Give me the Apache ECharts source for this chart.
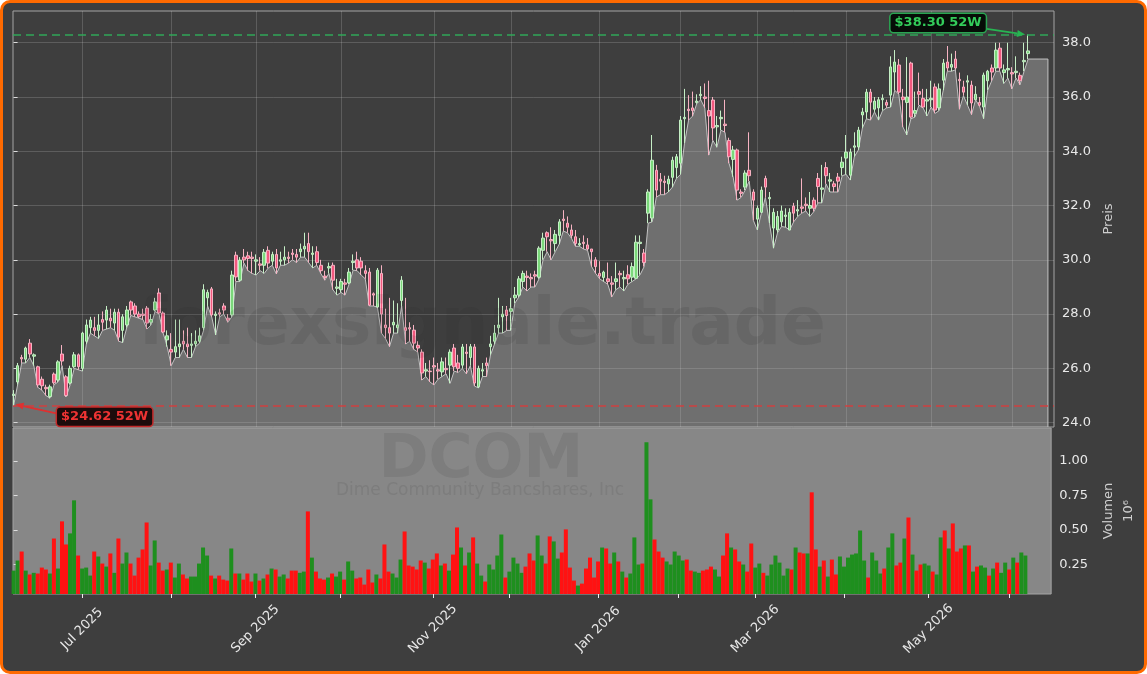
<!DOCTYPE html>
<html><head><meta charset="utf-8">
<script src="https://cdn.jsdelivr.net/npm/echarts@6/dist/echarts.min.js"></script>
<style>
html,body{margin:0;padding:0;background:#ffffff;}
#frame{position:absolute;left:0;top:0;width:1147px;height:674px;box-sizing:border-box;border:3px solid #ff6a00;border-radius:10px;background:#3e3e3e;}
#chart{position:absolute;left:0;top:0;width:1147px;height:674px;}
</style></head><body>
<div id="frame"></div><div id="chart"></div>
<script>
// ---------- DATA ----------
const START_DATE = '2025-06-05';
const END_DATE = '2026-06-05';
const holidays = ['2025-06-19','2025-07-04','2025-09-01','2025-11-27','2025-12-25','2026-01-01','2026-01-19','2026-02-16','2026-04-03','2026-05-25'];
const tickLabels = ['Jul 2025','Sep 2025','Nov 2025','Jan 2026','Mar 2026','May 2026'];
const priceTicks = [24,26,28,30,32,34,36,38];
const volumeTicks = [0.25,0.5,0.75,1.0];

const opens = [
25.0,25.5,26.4,26.34,26.93,26.45,26.06,25.6,25.3,24.96,
25.79,25.57,26.53,25.69,25.46,26.06,26.5,26.0,27.0,27.5,
27.5,27.4,27.8,27.78,27.85,27.67,28.07,27.4,27.6,28.45,
28.3,28.0,28.0,28.22,27.7,28.15,28.78,28.04,27.05,26.7,
26.6,26.8,27.0,26.9,26.85,26.9,27.0,27.5,28.6,28.93,
27.95,28.05,28.3,27.85,27.97,30.17,29.25,30.1,30.15,30.1,
29.95,29.85,29.8,30.35,29.95,30.2,29.95,30.0,30.1,30.25,
30.2,30.3,30.4,30.6,30.2,30.3,29.8,29.4,29.7,29.8,
28.95,28.9,29.15,29.15,29.9,30.0,29.95,29.6,29.55,28.75,
28.26,29.5,27.6,27.5,27.6,27.5,28.5,27.5,27.5,27.41,
26.85,26.6,25.9,25.9,26.1,25.95,25.87,26.0,26.12,26.75,
26.2,26.12,26.6,26.4,26.79,25.32,25.9,26.2,26.8,27.0,
27.5,27.9,28.15,28.1,28.6,28.7,29.2,29.4,29.35,29.45,
29.36,30.35,31.0,30.75,30.6,30.9,31.5,31.35,31.1,30.85,
30.55,30.65,30.55,30.4,30.0,29.5,29.35,29.3,29.15,29.2,
29.5,29.3,29.45,29.36,29.32,30.6,30.25,31.72,31.54,33.3,
32.97,32.9,32.8,33.04,33.4,33.56,35.2,35.55,35.6,35.8,
36.05,36.0,35.5,35.89,34.9,35.2,35.0,34.4,33.7,34.05,
32.5,32.68,33.3,32.5,31.5,31.75,33.0,32.25,31.17,31.1,
31.4,31.6,31.1,31.98,31.8,31.95,32.05,31.9,32.2,33.0,
32.6,33.4,32.9,32.8,33.05,33.4,33.75,33.12,34.15,34.16,
35.34,35.45,36.18,35.55,35.6,35.9,35.8,36.07,36.92,37.18,
36.0,35.8,37.25,35.4,36.2,35.95,35.85,35.9,36.37,35.6,
36.62,37.29,37.1,37.4,36.65,36.37,36.55,36.44,35.9,35.8,
35.63,36.6,37.07,37.07,37.8,36.9,37.0,36.9,36.9,36.8,
37.3,37.6];

const closes = [
25.05,26.1,26.35,26.75,26.53,26.5,25.39,25.36,25.25,25.32,
25.47,26.24,26.27,25.0,26.0,26.5,26.06,27.3,27.6,27.78,
27.4,27.6,27.7,28.15,27.75,28.07,27.15,27.9,28.15,28.15,
28.0,27.9,27.95,27.67,27.8,28.45,28.04,27.34,27.2,26.6,
26.8,26.9,26.9,26.8,26.9,27.0,27.2,28.9,28.8,27.97,
28.0,28.0,28.15,27.78,29.44,29.37,29.99,30.0,30.05,30.05,
30.0,29.8,30.28,29.88,30.2,29.7,30.0,30.1,30.05,30.2,
30.1,30.4,30.5,30.3,30.25,29.9,29.6,29.35,29.75,29.25,
29.0,29.2,29.1,29.55,29.95,29.7,29.7,29.5,28.33,28.7,
29.62,28.0,27.5,27.3,27.7,27.6,29.25,27.4,27.45,26.93,
26.75,25.83,25.95,25.88,26.05,25.9,26.24,25.95,26.6,26.06,
26.0,26.79,26.55,26.8,25.46,26.0,25.95,26.1,26.9,27.3,
27.6,28.0,27.95,28.2,28.7,29.3,29.5,29.35,29.3,29.4,
30.43,30.8,30.85,30.7,30.94,31.4,31.45,31.2,30.9,30.6,
30.6,30.6,30.4,30.3,29.75,29.4,29.55,29.2,29.1,29.3,
29.45,29.35,29.3,29.75,30.65,30.65,29.9,32.5,33.67,32.57,
32.9,32.85,32.97,33.67,33.8,35.15,35.25,35.5,35.5,35.85,
36.1,35.95,35.3,34.86,34.95,35.25,34.95,33.8,34.05,32.57,
32.45,33.2,33.1,32.2,31.9,32.57,32.68,32.3,31.75,31.6,
31.8,31.65,31.75,31.72,31.85,31.9,32.0,32.0,31.9,32.7,
32.65,33.1,32.95,32.7,32.9,33.6,33.97,33.97,34.2,34.78,
35.45,36.18,35.81,35.85,35.9,35.95,35.7,37.11,37.29,36.18,
35.9,36.0,35.26,35.5,36.1,35.63,35.9,35.95,35.52,36.3,
37.25,37.07,37.2,37.07,36.6,36.18,36.6,35.78,36.1,35.7,
36.81,36.95,36.92,37.73,37.07,37.0,37.05,36.85,36.95,36.6,
37.35,37.7];

const lows = [
24.62,25.4,26.2,26.2,26.4,26.1,25.3,25.2,25.0,24.9,
25.4,25.5,26.1,24.95,25.4,26.0,25.95,25.9,26.9,27.3,
27.2,27.1,27.4,27.45,27.5,27.4,27.0,26.95,27.5,27.95,
27.9,27.85,27.8,27.45,27.6,28.1,28.0,27.3,26.8,26.1,
26.4,26.4,26.7,26.4,26.4,26.8,26.93,27.4,28.3,27.9,
27.23,27.9,28.0,27.7,27.9,29.2,29.2,29.88,29.6,29.5,
29.44,29.6,29.5,29.7,29.8,29.48,29.8,29.8,29.88,30.0,
29.9,30.1,30.1,29.9,29.7,29.8,29.5,29.25,29.5,28.9,
28.7,28.8,28.7,29.1,29.62,29.6,29.44,29.3,28.3,28.3,
28.26,27.3,27.1,26.8,27.3,27.3,28.3,26.9,27.0,26.7,
26.6,25.57,25.7,25.5,25.39,25.6,25.7,25.8,25.45,25.9,
25.85,26.0,25.8,26.1,25.35,25.28,25.7,25.7,26.5,26.9,
27.3,27.3,27.4,27.4,28.4,28.63,29.0,28.85,29.0,29.0,
29.3,30.0,30.3,30.0,30.3,30.58,31.06,31.0,30.8,30.5,
30.5,30.4,30.35,29.75,29.5,29.3,29.2,29.1,28.63,28.9,
29.0,28.85,29.1,29.2,29.3,29.45,29.75,31.35,31.4,32.31,
32.4,32.4,32.5,32.68,33.0,33.15,34.3,35.15,35.3,35.75,
35.9,35.6,33.86,34.4,34.15,34.78,34.7,33.56,33.06,32.2,
32.3,32.57,32.9,31.46,31.1,31.72,32.3,31.35,30.43,31.0,
31.23,31.2,31.1,31.4,31.6,31.72,31.8,31.6,31.78,32.1,
32.1,32.8,32.5,32.5,32.5,33.1,33.15,32.94,33.8,34.05,
34.86,35.2,35.15,35.45,35.15,35.5,35.6,35.63,36.25,36.1,
34.9,34.6,35.2,35.26,35.7,35.6,35.3,35.63,35.4,35.5,
36.25,36.95,36.95,37.0,35.55,36.05,35.7,35.35,35.9,35.65,
35.2,36.25,36.6,36.95,36.95,36.5,36.7,36.3,36.7,36.45,
36.95,37.4];

const highs = [
25.2,26.2,26.5,26.8,27.08,26.55,26.1,25.7,25.4,25.4,
25.85,26.3,26.86,25.75,26.1,26.6,26.55,27.35,27.8,27.9,
27.9,28.0,28.1,28.3,28.2,28.2,28.2,28.0,28.3,28.5,
28.4,28.1,28.2,28.3,28.0,28.6,28.95,28.1,27.4,27.3,
27.8,27.8,27.4,27.5,27.3,27.4,27.5,29.1,28.9,29.0,
28.1,28.2,28.4,28.0,29.6,30.3,30.1,30.4,30.3,30.3,
30.2,30.1,30.4,30.5,30.3,30.4,30.3,30.5,30.3,30.4,
30.4,30.6,31.0,31.0,30.5,30.5,30.0,29.6,29.9,29.9,
29.3,29.3,29.3,29.7,30.2,30.3,30.1,29.8,29.7,28.8,
29.7,29.8,28.2,28.6,28.5,28.4,29.4,28.6,27.7,27.6,
27.0,26.7,26.2,26.3,26.4,26.2,26.4,26.4,26.7,26.9,
26.5,26.9,26.9,26.9,26.9,26.1,26.2,26.4,27.2,27.6,
28.6,28.3,28.3,28.6,29.0,29.4,29.6,29.6,29.5,29.6,
30.5,31.0,31.05,31.2,31.1,31.5,31.83,31.6,31.3,31.1,
30.8,30.9,30.8,30.4,30.1,29.95,29.6,29.9,29.4,29.9,
29.6,29.6,29.8,29.9,30.9,30.9,30.4,32.6,34.6,33.5,
33.2,33.1,33.1,33.8,33.9,35.3,36.3,36.07,36.2,36.1,
36.4,36.5,36.6,36.0,35.3,35.5,35.9,34.5,34.2,34.1,
32.6,33.3,34.7,32.6,32.0,32.7,33.1,32.5,31.9,31.8,
32.0,31.9,31.9,32.1,32.2,33.0,32.3,32.5,32.3,33.2,
33.5,33.6,33.2,32.9,33.2,33.8,34.6,34.1,34.7,34.9,
35.6,36.3,36.3,36.0,36.0,36.1,35.9,37.5,37.73,37.4,
36.3,37.47,37.3,36.2,36.9,36.3,36.3,36.6,36.5,36.5,
37.4,37.88,37.6,37.7,36.9,36.6,36.8,36.6,36.4,36.0,
36.9,37.0,37.2,38.0,38.0,37.2,38.0,37.1,37.5,36.9,
38.0,38.3];

// volume in millions of shares
const volumes = [
0.206,0.279,0.344,0.206,0.178,0.19,0.185,0.228,0.214,0.185,
0.438,0.221,0.562,0.395,0.475,0.714,0.315,0.221,0.228,0.17,
0.344,0.308,0.257,0.235,0.33,0.19,0.438,0.257,0.337,0.257,
0.17,0.3,0.359,0.554,0.243,0.424,0.264,0.206,0.214,0.264,
0.156,0.257,0.178,0.149,0.163,0.163,0.257,0.373,0.315,0.17,
0.149,0.17,0.141,0.134,0.366,0.185,0.185,0.141,0.185,0.127,
0.185,0.134,0.149,0.178,0.221,0.214,0.163,0.178,0.149,0.206,
0.206,0.19,0.199,0.634,0.3,0.199,0.149,0.141,0.156,0.185,
0.163,0.199,0.141,0.272,0.206,0.149,0.156,0.105,0.214,0.12,
0.178,0.149,0.395,0.199,0.185,0.156,0.286,0.489,0.243,0.235,
0.214,0.279,0.264,0.221,0.286,0.33,0.243,0.257,0.206,0.322,
0.518,0.373,0.243,0.337,0.446,0.257,0.17,0.127,0.25,0.214,
0.315,0.467,0.156,0.199,0.3,0.257,0.19,0.235,0.33,0.279,
0.46,0.315,0.257,0.453,0.417,0.293,0.337,0.504,0.228,0.134,
0.098,0.112,0.221,0.3,0.156,0.272,0.373,0.366,0.257,0.337,
0.272,0.199,0.156,0.185,0.446,0.25,0.257,1.134,0.721,0.431,
0.344,0.3,0.272,0.25,0.344,0.315,0.279,0.286,0.206,0.199,
0.19,0.206,0.214,0.235,0.214,0.163,0.315,0.475,0.373,0.359,
0.272,0.25,0.199,0.402,0.228,0.257,0.19,0.17,0.25,0.315,
0.264,0.17,0.221,0.214,0.373,0.337,0.33,0.33,0.772,0.359,
0.235,0.279,0.163,0.286,0.178,0.308,0.235,0.3,0.322,0.33,
0.496,0.279,0.156,0.337,0.279,0.185,0.221,0.373,0.475,0.243,
0.264,0.438,0.59,0.322,0.206,0.25,0.257,0.243,0.199,0.178,
0.446,0.496,0.366,0.547,0.344,0.366,0.388,0.388,0.199,0.235,
0.243,0.228,0.17,0.221,0.264,0.19,0.264,0.214,0.3,0.264,
0.337,0.315];

// ---------- derived ----------
function tradingDays(){
  const out=[]; let d=new Date(START_DATE+'T00:00:00Z'); const e=new Date(END_DATE+'T00:00:00Z');
  while(d<=e){ const wd=d.getUTCDay(); const s=d.toISOString().slice(0,10);
    if(wd!==0 && wd!==6 && holidays.indexOf(s)<0) out.push(s);
    d=new Date(d.getTime()+86400000); }
  return out;
}
const dates = tradingDays();
const MON = ['Jan','Feb','Mar','Apr','May','Jun','Jul','Aug','Sep','Oct','Nov','Dec'];
const monthStarts = [];
const labelAt = {};
for (let i=1;i<dates.length;i++){
  if (dates[i].slice(0,7)!==dates[i-1].slice(0,7)){
    monthStarts.push(i);
    const lab = MON[+dates[i].slice(5,7)-1]+' '+dates[i].slice(0,4);
    if (tickLabels.indexOf(lab)>=0) labelAt[i]=lab;
  }
}
const labelIdx = Object.keys(labelAt).map(Number);
const N = dates.length;
const X_MIN = -0.15, X_MAX = 257.4;
const AREA_EXTEND = 4.9;
const P_MIN = 23.84, P_MAX = 39.17;
const V_MIN = 0.037, V_MAX = 1.237;

const candleData = dates.map((d,i)=>[i, opens[i], closes[i], lows[i], highs[i]]);
const areaData = lows.map((l,i)=>[i,l]);
areaData.push([N-1+AREA_EXTEND, lows[N-1]]);
areaData.push([N-1+AREA_EXTEND, P_MIN]);
const volData = volumes.map((v,i)=>({value:[i,v], itemStyle:{color: closes[i]>=opens[i] ? '#1e8f1e' : '#ff1212'}}));

let hiIdx=0, loIdx=0;
highs.forEach((h,i)=>{ if(h>highs[hiIdx]) hiIdx=i; });
lows.forEach((l,i)=>{ if(l<lows[loIdx]) loIdx=i; });
const hiVal = highs[hiIdx], loVal = lows[loIdx];

const FONT = 'DejaVu Sans';
const labelColor = '#e8e8e8';
const gridLine = 'rgba(255,255,255,0.16)';

const chart = echarts.init(document.getElementById('chart'), null, {renderer:'canvas'});
const option = {
  backgroundColor: 'transparent',
  animation: false,
  grid: [
    {left:13, top:11, width:1041, height:416, show:true, backgroundColor:'transparent', borderColor:'#a4a4a4', borderWidth:1},
    {left:13, top:428, width:1041, height:166, show:true, backgroundColor:'#878787', borderColor:'#a4a4a4', borderWidth:1}
  ],
  xAxis: [
    {type:'value', gridIndex:0, min:X_MIN, max:X_MAX,
     axisLine:{show:false}, axisLabel:{show:false},
     axisTick:{show:false, customValues: monthStarts},
     splitLine:{show:true, lineStyle:{color:gridLine, width:1}}},
    {type:'value', gridIndex:1, min:X_MIN, max:X_MAX,
     axisLine:{show:false},
     axisTick:{show:true, inside:false, length:4, customValues: monthStarts, lineStyle:{color:'#eeeeee'}},
     axisLabel:{show:true, customValues: labelIdx, rotate:45, align:'center', verticalAlign:'middle', color:labelColor, fontFamily:FONT, fontSize:13, margin:35,
       formatter:(v)=>labelAt[Math.round(v)]||''},
     splitLine:{show:false}}
  ],
  yAxis: [
    {type:'value', gridIndex:0, position:'right', min:P_MIN, max:P_MAX,
     name:'Preis', nameLocation:'middle', nameRotate:90, nameGap:44,
     nameTextStyle:{color:'#cfcfcf', fontFamily:FONT, fontSize:13},
     axisLine:{show:false},
     axisTick:{show:true, length:4, customValues: priceTicks, lineStyle:{color:'#dddddd'}},
     axisLabel:{customValues: priceTicks, color:labelColor, fontFamily:FONT, fontSize:13, margin:8, formatter:(v)=>v.toFixed(1)},
     splitLine:{show:true, lineStyle:{color:gridLine, width:1}}},
    {type:'value', gridIndex:1, position:'right', min:V_MIN, max:V_MAX,
     name:'Volumen\n10\u2076', nameLocation:'middle', nameRotate:90, nameGap:38,
     nameTextStyle:{color:'#cfcfcf', fontFamily:FONT, fontSize:13, lineHeight:20},
     axisLine:{show:false},
     axisTick:{show:true, length:4, customValues: volumeTicks, lineStyle:{color:'#dddddd'}},
     axisLabel:{customValues: volumeTicks, color:labelColor, fontFamily:FONT, fontSize:13, margin:8, formatter:(v)=>v.toFixed(2)},
     splitLine:{show:false}}
  ],
  series: [
    {type:'line', name:'low', xAxisIndex:0, yAxisIndex:0, data:areaData, showSymbol:false, symbol:'none',
     lineStyle:{color:'#c4c4c4', width:1}, areaStyle:{color:'rgba(200,200,200,0.5)', origin:'start'}, z:1, silent:true},
    {type:'candlestick', name:'DCOM', xAxisIndex:0, yAxisIndex:0, data:candleData,
     encode:{x:0, y:[1,2,3,4]}, barWidth:3,
     itemStyle:{color:'#7ad87a', color0:'#f2587e', borderColor:'#c6efc6', borderColor0:'#f7b3c3', borderWidth:1},
     z:3,
     markLine:{silent:true, symbol:'none', label:{show:false},
       data:[
         {yAxis:hiVal, lineStyle:{color:'#2fb15a', type:[8,5], width:1.5, opacity:0.9}},
         {yAxis:loVal, lineStyle:{color:'#d83a3a', type:[8,5], width:1.5, opacity:0.9}}
       ]}},
    {type:'bar', name:'Volumen', xAxisIndex:1, yAxisIndex:1, data:volData, barWidth:4, z:2}
  ]
};
chart.setOption(option);

function arrow(from, to, color){
  const ang = Math.atan2(to[1]-from[1], to[0]-from[0]);
  const L=8, W=3.5;
  const bx = to[0]-L*Math.cos(ang), by = to[1]-L*Math.sin(ang);
  const px = -Math.sin(ang)*W, py = Math.cos(ang)*W;
  return [
    {type:'line', shape:{x1:from[0],y1:from[1],x2:bx,y2:by}, style:{stroke:color, lineWidth:1.8}, z:50},
    {type:'polygon', shape:{points:[[to[0],to[1]],[bx+px,by+py],[bx-px,by-py]]}, style:{fill:color}, z:50}
  ];
}
const hp = chart.convertToPixel({xAxisIndex:0, yAxisIndex:0}, [hiIdx, hiVal]);
const lp = chart.convertToPixel({xAxisIndex:0, yAxisIndex:0}, [loIdx, loVal]);
const g = [];
g.push({type:'text', x:482, y:327, z:40, silent:true, style:{text:'forexsignale.trade', font:'bold 66px "DejaVu Sans"', fill:'rgba(40,40,40,0.11)', align:'center', verticalAlign:'middle'}});
g.push({type:'text', x:481, y:461, z:40, silent:true, style:{text:'DCOM', font:'bold 60px "DejaVu Sans"', fill:'rgba(40,40,40,0.1)', align:'center', verticalAlign:'middle'}});
g.push({type:'text', x:480, y:491, z:40, silent:true, style:{text:'Dime Community Bancshares, Inc', font:'17px "DejaVu Sans"', fill:'rgba(40,40,40,0.1)', align:'center', verticalAlign:'middle'}});
arrow([hp[0]-43, hp[1]-6], [hp[0]-3, hp[1]], '#27b552').forEach(e=>g.push(e));
arrow([lp[0]+45, lp[1]+8], [lp[0]+2, lp[1]-1.5], '#e03030').forEach(e=>g.push(e));
g.push({type:'text', x:hp[0]-90, y:hp[1]-11.5, z:60, style:{text:'$'+hiVal.toFixed(2)+' 52W', font:'bold 13px "DejaVu Sans"', fill:'#33cc5a', align:'center', verticalAlign:'middle', backgroundColor:'#060d07', borderColor:'#2aa552', borderWidth:1.5, borderRadius:3, padding:[3,4,2,4]}});
g.push({type:'text', x:lp[0]+91, y:lp[1]+11, z:60, style:{text:'$'+loVal.toFixed(2)+' 52W', font:'bold 13px "DejaVu Sans"', fill:'#ee3333', align:'center', verticalAlign:'middle', backgroundColor:'#1c0c0c', borderColor:'#c42a2a', borderWidth:1.5, borderRadius:3, padding:[3,4,2,4]}});
chart.setOption({graphic: g});
</script>
</body></html>
